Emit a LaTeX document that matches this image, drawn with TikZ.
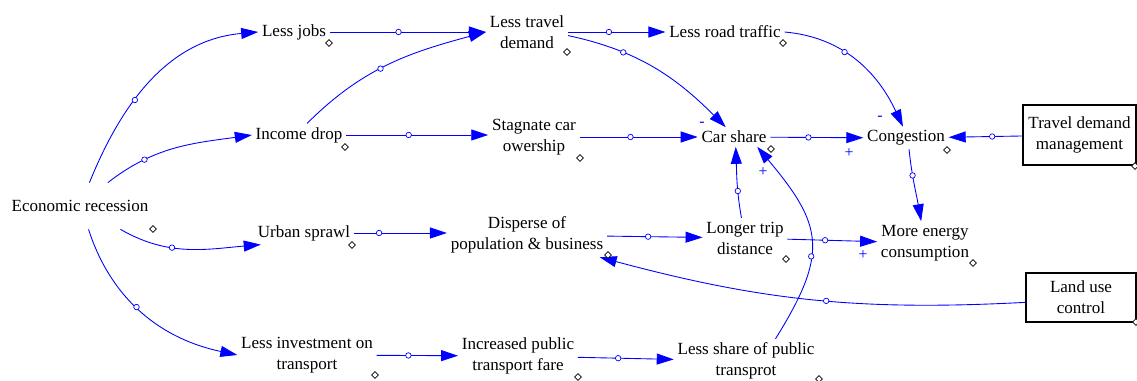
\documentclass[tikz,border=0pt]{standalone}
\usepackage{fontspec}
\setmainfont{Liberation Serif}
\usetikzlibrary{arrows.meta,shapes.geometric}

\tikzset{
  var/.style={font=\fontsize{9.7}{12}\selectfont, align=center, inner sep=2pt},
  box/.style={var, draw, line width=0.7pt},
  link/.style={blue, line width=0.5pt, -{Triangle[length=0.34cm,width=0.22cm]}},
  hnd/.style={circle, draw=blue, fill=white, inner sep=0pt, minimum size=0.11cm, line width=0.4pt},
  dmd/.style={diamond, draw, fill=white, inner sep=0pt, minimum size=0.14cm, line width=0.4pt},
  sgn/.style={text=blue, font=\fontsize{9}{10}\selectfont, inner sep=0pt},
}

\begin{document}
\begin{tikzpicture}[x=0.02cm, y=-0.02cm]
\useasboundingbox (0,0) rectangle (1137,381);

% Variables
\node[var, minimum height=0.92cm] (er) at (80,206) {Economic recession};
\node[var] (lj) at (294,32) {Less jobs};
\node[var] (id) at (299,135) {Income drop};
\node[var] (us) at (304,233) {Urban sprawl};
\node[var] (li) at (307,355) {Less investment on\\transport};
\node[var] (ltd) at (527,32) {Less travel\\demand};
\node[var] (sc) at (534,137) {Stagnate car\\owership};
\node[var] (dp) at (527,235) {Disperse of\\population \& business};
\node[var] (ip) at (518,356) {Increased public\\transport fare};
\node[var] (lrt) at (725,32) {Less road traffic};
\node[var] (cs) at (734,137) {Car share};
\node[var] (lt) at (745,238) {Longer trip\\distance};
\node[var] (ls) at (746,361) {Less share of public\\transprot};
\node[var] (cg) at (906,138) {Congestion};
\node[var] (mec) at (925,243) {More energy\\consumption};
\node[box, minimum width=2.26cm, minimum height=1.2cm] (tdm) at (1079.5,135) {Travel demand\\management};
\node[box, minimum width=2.2cm, minimum height=0.98cm] (lu) at (1081,297.5) {Land use\\control};

% Links out of the recession
\draw[link] (er.68) to[out=68,in=185] node[hnd,pos=0.38] (h1) {} (lj.west);
\draw[link] (er.40) to[out=38,in=188] node[hnd,pos=0.27] (h2) {} (id.west);
\draw[link] (er.-30) to[out=-30,in=185] node[hnd,pos=0.38] (h3) {} (us.-165);
\draw[link] (er.-70) to[out=-72,in=168] node[hnd,pos=0.45] (h4) {} (li.west);

% Upper chain
\draw[link] (lj) -- node[hnd,pos=0.44] (h5) {} (ltd);
\draw[link] (id.55) to[out=45,in=195] node[hnd,pos=0.45] (h6) {} (ltd.west);
\draw[link] (id.east) -- node[hnd,pos=0.44] (h7) {} (id.east -| sc.west);
\draw[link] (ltd) -- node[hnd,pos=0.42] (h8) {} (lrt);
\draw[link] (ltd.-5) to[out=-12,in=135] node[hnd,pos=0.3] (h9) {} (cs.130);
\draw[link] (sc) -- node[hnd,pos=0.43] (h10) {} (cs);
\draw[link] (lrt.east) to[out=-5,in=115] node[hnd,pos=0.4] (h11) {} (cg.105);
\draw[link] (cs) -- node[hnd,pos=0.41] (h12) {} (cg);
\draw[link] (tdm) -- node[hnd,pos=0.41] (h13) {} (cg);
\draw[link] (cg.-75) to[out=-84,in=100] node[hnd,pos=0.35] (h14) {} (mec.100);

% Middle and lower chains
\draw[link] (us.east) -- node[hnd,pos=0.27] (h15) {} (us.east -| dp.west);
\draw[link] (dp) -- node[hnd,pos=0.43] (h16) {} (lt);
\draw[link] (lt.100) to[out=100,in=-88] node[hnd,pos=0.37] (h17) {} (cs.-80);
\draw[link] (lt) -- node[hnd,pos=0.42] (h18) {} (mec);
\draw[link] (li) -- node[hnd,pos=0.39] (h19) {} (ip);
\draw[link] (ip) -- node[hnd,pos=0.42] (h20) {} (ls);
\draw[link] (ls.37) to[out=58,in=-50,looseness=1.35] node[hnd,pos=0.4] (h21) {} (cs.-23);
\draw[link] (lu.-175) to[out=183,in=-15] node[hnd,pos=0.46] (h22) {} (dp.-17);

% Polarities
\node[sgn] (s1) at (702,124) {-};
\node[sgn] (s2) at (880,118) {-};
\node[sgn] (s3) at (849,153) {+};
\node[sgn] (s4) at (763,172) {+};
\node[sgn] (s5) at (863,255) {+};

% Label handles
\foreach \x/\y [count=\i] in {329/43, 345/147, 567/52, 580/158, 783/43, 771/149, 947/150, 1135/166, 153/229, 352/245, 608/255, 786/259, 973/263, 1136/322, 375/375, 578/377, 819/379}
  \node[dmd] (d\i) at (\x,\y) {};
\end{tikzpicture}
\end{document}
